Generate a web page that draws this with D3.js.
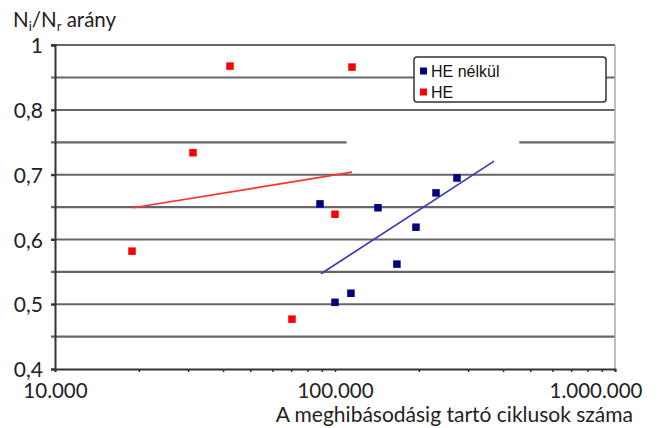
<!DOCTYPE html>
<html>
<head>
<meta charset="utf-8">
<script src="https://cdn.jsdelivr.net/npm/d3@7"></script>
<style>
  body { margin: 0; background: #fff; }
  svg { display: block; }
  .lbl { font-family: Lato, "Open Sans", sans-serif; fill: #222; }
  .leg { font-family: "Liberation Sans", Arial, sans-serif; fill: #111; }
</style>
</head>
<body>
<svg id="chart" width="659" height="428"></svg>
<script>
// Series: cycles to failure and N_i/N_r ratio
const seriesNames = ["HE nélkül", "HE"];
const seriesColors = ["#000080", "#ff0000"];
const heNelkulCycles = [88400, 142400, 229500, 272700, 194600, 166400, 114000, 100000];
const heNelkulRatio  = [0.655, 0.649, 0.672, 0.695, 0.619, 0.562, 0.517, 0.503];
const heCycles = [18840, 31100, 42170, 115000, 100000, 70200];
const heRatio  = [0.582, 0.734, 0.935, 0.932, 0.639, 0.477];

// Trend lines (endpoints)
const heNelkulTrendCycles = [89100, 370000];
const heNelkulTrendRatio  = [0.547, 0.721];
const heTrendCycles = [19000, 115000];
const heTrendRatio  = [0.649, 0.704];

// Axes
const xTickValues = [10000, 100000, 1000000];
const xTickLabels = ["10.000", "100.000", "1.000.000"];
const xMinorTicks = [20000, 30000, 40000, 50000, 60000, 70000, 80000, 90000,
                     200000, 300000, 400000, 500000, 600000, 700000, 800000, 900000];
const yTickValues = [0.4, 0.5, 0.6, 0.7, 0.8, 1];
const yTickLabels = ["0,4", "0,5", "0,6", "0,7", "0,8", "1"];
const gridValues  = [0.45, 0.5, 0.55, 0.6, 0.65, 0.7, 0.75, 0.8, 0.9, 1];
const gridGap = { value: 0.75, from: 110000, to: 455000 };

const svg = d3.select("#chart");
const plotL = 55, plotR = 615, plotT = 45, plotB = 369;

const x = d3.scaleLog().domain([10000, 1000000]).range([plotL, plotR]);
// the upper band 0.8–1 is drawn compressed to one grid step
const y = d3.scaleLinear().domain([0.4, 0.8, 1]).range([plotB, 110, plotT]);

// Horizontal grid lines
const gridG = svg.append("g");
gridValues.forEach(v => {
  const segs = v === gridGap.value
    ? [[plotL - 4, x(gridGap.from)], [x(gridGap.to), plotR]]
    : [[plotL - 4, plotR]];
  segs.forEach(([a, b]) => {
    gridG.append("line")
      .attr("x1", a).attr("x2", b)
      .attr("y1", y(v)).attr("y2", y(v))
      .attr("stroke", "#666").attr("stroke-width", 2.2);
  });
});

// Right frame edge
svg.append("line")
  .attr("x1", plotR).attr("x2", plotR).attr("y1", plotT).attr("y2", plotB)
  .attr("stroke", "#a8a8a8").attr("stroke-width", 1.5);

// Y axis
const yAxis = d3.axisLeft(y)
  .tickValues(yTickValues)
  .tickFormat((d, i) => yTickLabels[i])
  .tickSize(4).tickPadding(8);
const yG = svg.append("g").attr("transform", `translate(${plotL},0)`).call(yAxis);
yG.select(".domain").attr("stroke", "#333").attr("stroke-width", 2);
yG.selectAll(".tick line").attr("stroke", "#333").attr("stroke-width", 2);
yG.selectAll(".tick text").attr("class", "lbl").attr("font-size", 21).attr("dy", "0.36em");

// X axis
const xAxis = d3.axisBottom(x)
  .tickValues(xTickValues)
  .tickFormat((d, i) => xTickLabels[i])
  .tickSize(3).tickPadding(11);
const xG = svg.append("g").attr("transform", `translate(0,${plotB})`).call(xAxis);
xG.select(".domain").attr("stroke", "#333").attr("stroke-width", 2);
xG.selectAll(".tick line").attr("stroke", "#333").attr("stroke-width", 1.5);
xG.selectAll(".tick text").attr("class", "lbl").attr("font-size", 20.5);
// keep the last label inside the canvas
xG.selectAll(".tick text").filter((d, i) => i === xTickValues.length - 1)
  .attr("text-anchor", "end").attr("x", 642 - plotR);
xG.selectAll(".minor").data(xMinorTicks).enter().append("line")
  .attr("class", "minor")
  .attr("x1", d => x(d)).attr("x2", d => x(d))
  .attr("y1", 0).attr("y2", 3)
  .attr("stroke", "#333").attr("stroke-width", 1.5);

// Axis titles
const yTitle = svg.append("text").attr("class", "lbl")
  .attr("x", 13).attr("y", 27).attr("font-size", 20.5);
yTitle.append("tspan").text("N");
yTitle.append("tspan").text("i").attr("font-size", 13).attr("dy", 4);
yTitle.append("tspan").text("/N").attr("dy", -4);
yTitle.append("tspan").text("r").attr("font-size", 13).attr("dy", 4);
yTitle.append("tspan").text(" arány").attr("dy", -4);

svg.append("text").attr("class", "lbl")
  .attr("x", 633).attr("y", 422).attr("text-anchor", "end")
  .attr("font-size", 21)
  .text("A meghibásodásig tartó ciklusok száma");

// Trend lines
const line = d3.line().x(d => x(d[0])).y(d => y(d[1]));
svg.append("path")
  .datum(heTrendCycles.map((c, i) => [c, heTrendRatio[i]]))
  .attr("d", line).attr("fill", "none")
  .attr("stroke", "#ff3030").attr("stroke-width", 1.7);
svg.append("path")
  .datum(heNelkulTrendCycles.map((c, i) => [c, heNelkulTrendRatio[i]]))
  .attr("d", line).attr("fill", "none")
  .attr("stroke", "#3b3bb0").attr("stroke-width", 1.7);

// Markers
const ms = 7.5;
function markers(cycles, ratios, color) {
  svg.append("g").selectAll("rect")
    .data(cycles.map((c, i) => [c, ratios[i]]))
    .enter().append("rect")
    .attr("x", d => x(d[0]) - ms / 2).attr("y", d => y(d[1]) - ms / 2)
    .attr("width", ms).attr("height", ms)
    .attr("fill", color);
}
markers(heNelkulCycles, heNelkulRatio, seriesColors[0]);
markers(heCycles, heRatio, seriesColors[1]);

// Legend
const legend = svg.append("g");
legend.append("rect")
  .attr("x", 414).attr("y", 57).attr("width", 192).attr("height", 45)
  .attr("rx", 3).attr("fill", "#fff")
  .attr("stroke", "#333").attr("stroke-width", 1.5);
seriesNames.forEach((name, i) => {
  const cy = 71 + i * 21;
  legend.append("rect")
    .attr("x", 420).attr("y", cy - 3.5).attr("width", 7).attr("height", 7)
    .attr("fill", seriesColors[i]);
  legend.append("text").attr("class", "leg")
    .attr("x", 431).attr("y", cy).attr("dy", "0.36em")
    .attr("font-size", 16).text(name);
});
</script>
</body>
</html>
